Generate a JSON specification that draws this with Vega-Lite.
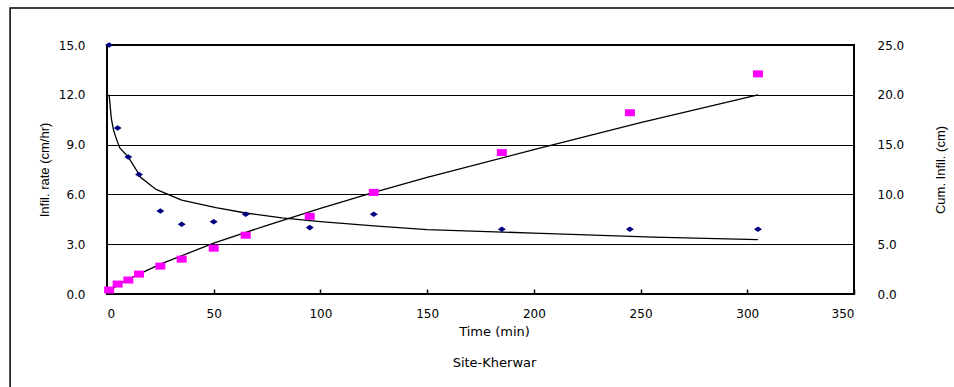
{
  "$schema": "https://vega.github.io/schema/vega-lite/v6.json",
  "width": 747,
  "height": 249,
  "autosize": {"type": "none"},
  "padding": {"left": 107, "top": 45, "right": 100, "bottom": 93},
  "background": "white",
  "config": {
    "view": {"stroke": "#000", "strokeWidth": 2},
    "font": "DejaVu Sans"
  },
  "datasets": {
    "rate": [
      {"t": 1, "v": 15.0}, {"t": 5, "v": 10.0}, {"t": 10, "v": 8.25}, {"t": 15, "v": 7.2},
      {"t": 25, "v": 5.0}, {"t": 35, "v": 4.2}, {"t": 50, "v": 4.35}, {"t": 65, "v": 4.8},
      {"t": 95, "v": 4.0}, {"t": 125, "v": 4.8}, {"t": 185, "v": 3.9}, {"t": 245, "v": 3.9},
      {"t": 305, "v": 3.9}
    ],
    "rateFit": [
      {"t": 1, "v": 12.0}, {"t": 2, "v": 10.6}, {"t": 3, "v": 9.9}, {"t": 4.5, "v": 9.3},
      {"t": 6, "v": 8.8}, {"t": 10, "v": 8.25}, {"t": 16, "v": 7.0}, {"t": 23, "v": 6.3},
      {"t": 35, "v": 5.66}, {"t": 51, "v": 5.2}, {"t": 65, "v": 4.88}, {"t": 82, "v": 4.58},
      {"t": 100, "v": 4.36}, {"t": 125, "v": 4.1}, {"t": 150, "v": 3.88}, {"t": 200, "v": 3.67},
      {"t": 256, "v": 3.43}, {"t": 305, "v": 3.27}
    ],
    "cum": [
      {"t": 1, "v": 0.4}, {"t": 5, "v": 1.0}, {"t": 10, "v": 1.4}, {"t": 15, "v": 2.0},
      {"t": 25, "v": 2.8}, {"t": 35, "v": 3.5}, {"t": 50, "v": 4.6}, {"t": 65, "v": 5.9},
      {"t": 95, "v": 7.8}, {"t": 125, "v": 10.2}, {"t": 185, "v": 14.2}, {"t": 245, "v": 18.2},
      {"t": 305, "v": 22.1}
    ],
    "cumFit": [
      {"t": 1, "v": 0.25}, {"t": 5, "v": 0.9}, {"t": 10, "v": 1.5}, {"t": 25, "v": 3.0},
      {"t": 50, "v": 5.1}, {"t": 75, "v": 6.9}, {"t": 100, "v": 8.6}, {"t": 125, "v": 10.2},
      {"t": 150, "v": 11.7}, {"t": 200, "v": 14.5}, {"t": 250, "v": 17.2}, {"t": 305, "v": 20.0}
    ],
    "frame": [{"x1": -45.4, "x2": 420, "y1": 17.23, "y2": -8}]
  },
  "layer": [
    {
      "layer": [
        {
          "data": {"name": "frame"},
          "mark": {"type": "rect", "fill": "transparent", "stroke": "#000", "strokeWidth": 1.5, "clip": false},
          "encoding": {
            "x": {"field": "x1", "type": "quantitative"},
            "x2": {"field": "x2"},
            "y": {"field": "y1", "type": "quantitative"},
            "y2": {"field": "y2"}
          }
        },
        {
          "data": {"name": "rateFit"},
          "mark": {"type": "line", "color": "#000", "strokeWidth": 1.3},
          "encoding": {
            "x": {"field": "t", "type": "quantitative"},
            "y": {"field": "v", "type": "quantitative"}
          }
        },
        {
          "data": {"name": "rate"},
          "mark": {"type": "point", "shape": "M0,-0.7L1,0L0,0.7L-1,0Z", "size": 64, "filled": true, "color": "#000080", "opacity": 1},
          "encoding": {
            "x": {
              "field": "t", "type": "quantitative",
              "scale": {"domain": [0, 350], "nice": false, "zero": false},
              "axis": {
                "values": [0, 50, 100, 150, 200, 250, 300, 350],
                "grid": false, "domain": false,
                "tickSize": -5, "tickColor": "#000", "tickWidth": 1.5,
                "labelPadding": 19,
                "labelFont": "DejaVu Sans", "labelFontSize": 12, "labelColor": "#000",
                "title": ["Time (min)", "Site-Kherwar"],
                "titleFont": "DejaVu Sans", "titleFontSize": 13, "titleFontWeight": "normal", "titleColor": "#000",
                "titleLineHeight": 31,
                "titleX": 387, "titleY": 31, "titleBaseline": "top"
              }
            },
            "y": {
              "field": "v", "type": "quantitative",
              "scale": {"domain": [0, 15], "nice": false},
              "axis": {
                "values": [0, 3, 6, 9, 12, 15],
                "format": ".1f",
                "grid": true, "gridColor": "#000", "gridWidth": 1, "gridOpacity": 1,
                "domain": false, "ticks": false,
                "labelPadding": 22,
                "labelFont": "DejaVu Sans", "labelFontSize": 12, "labelColor": "#000",
                "title": "Infil. rate (cm/hr)",
                "titleFont": "Liberation Sans", "titleFontSize": 13, "titleFontWeight": "normal", "titleColor": "#000",
                "titleAngle": -90, "titleX": -63, "titleY": 124.5, "titleAlign": "center", "titleBaseline": "middle"
              }
            }
          }
        }
      ]
    },
    {
      "layer": [
        {
          "data": {"name": "cumFit"},
          "mark": {"type": "line", "color": "#000", "strokeWidth": 1.3},
          "encoding": {
            "x": {"field": "t", "type": "quantitative"},
            "y": {"field": "v", "type": "quantitative"}
          }
        },
        {
          "data": {"name": "cum"},
          "mark": {"type": "point", "shape": "M-1,-0.7H1V0.7H-1Z", "size": 100, "filled": true, "color": "#FF00FF", "opacity": 1},
          "encoding": {
            "x": {"field": "t", "type": "quantitative"},
            "y": {
              "field": "v", "type": "quantitative",
              "scale": {"domain": [0, 25], "nice": false},
              "axis": {
                "orient": "right",
                "values": [0, 5, 10, 15, 20, 25],
                "format": ".1f",
                "grid": false, "domain": false, "ticks": false,
                "labelPadding": 23,
                "labelFont": "DejaVu Sans", "labelFontSize": 12, "labelColor": "#000",
                "title": "Cum. Infil. (cm)",
                "titleFont": "Liberation Sans", "titleFontSize": 13, "titleFontWeight": "normal", "titleColor": "#000",
                "titleAngle": -90, "titleX": 86, "titleY": 124.5, "titleAlign": "center", "titleBaseline": "middle"
              }
            }
          }
        }
      ]
    }
  ],
  "resolve": {"scale": {"y": "independent"}}
}
